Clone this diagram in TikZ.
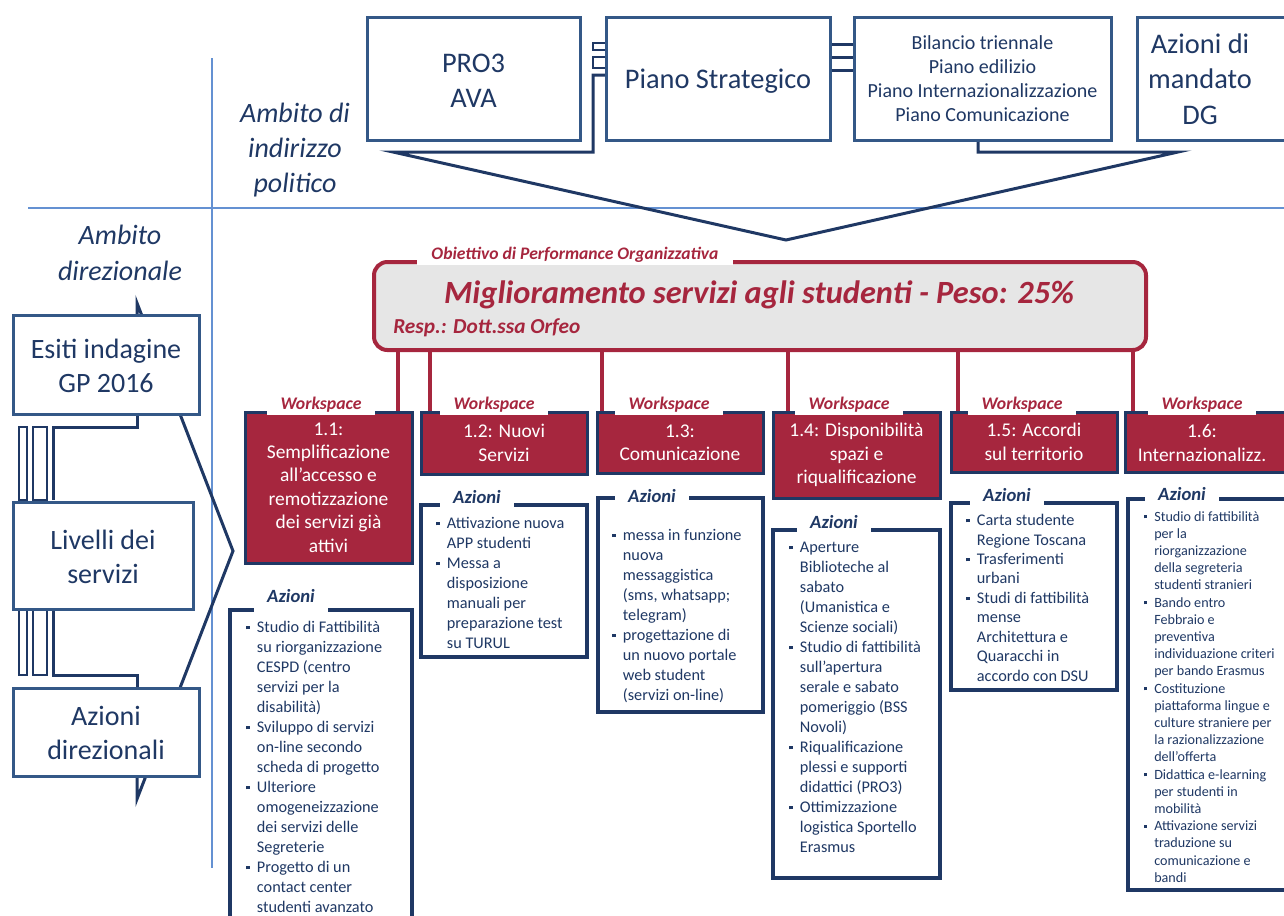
\documentclass[tikz,border=0pt]{standalone}
\usepackage{fontspec}
\setmainfont{Carlito}
\usetikzlibrary{fit,backgrounds}
\definecolor{crim}{RGB}{166,38,62}
\definecolor{navy}{RGB}{31,56,100}
\definecolor{boxblue}{RGB}{52,88,135}
\definecolor{divblue}{RGB}{100,145,210}
\definecolor{objgray}{RGB}{230,230,230}
\newcommand{\itm}{\makebox[8pt][l]{\raisebox{0.2em}{\rule{2.6pt}{2.6pt}}}}
\newcommand{\cnt}{\hspace*{8pt}}
\newcommand{\itms}{\makebox[7.5pt][l]{\raisebox{0.2em}{\rule{2.3pt}{2.3pt}}}}
\newcommand{\cnts}{\hspace*{7.5pt}}
\begin{document}
\begin{tikzpicture}[x=0.75pt,y=-0.75pt,
  divider/.style={draw=divblue,line width=1pt},
  outline/.style={draw=navy,line width=2.25pt},
  thinout/.style={draw=navy,line width=1.6pt},
  topbox/.style={draw=boxblue,line width=2.25pt,fill=white,inner sep=0pt},
  toptext/.style={inner sep=0pt,align=center,text=navy,font=\fontsize{21.3}{26.5}\selectfont},
  biltext/.style={inner sep=0pt,align=center,text=navy,font=\fontsize{15}{18}\selectfont},
  lefttext/.style={inner sep=0pt,align=center,text=navy,font=\fontsize{21}{25.5}\selectfont},
  ambito/.style={inner sep=0pt,align=center,text=navy,font=\itshape\fontsize{21}{26.5}\selectfont},
  objbox/.style={draw=crim,line width=3pt,fill=objgray,rounded corners=10pt,inner sep=0pt},
  objtitle/.style={inner sep=0pt,text=crim,font=\bfseries\itshape\fontsize{24.3}{29}\selectfont},
  objresp/.style={inner sep=0pt,text=crim,font=\bfseries\itshape\fontsize{16}{19}\selectfont},
  objlab/.style={fill=white,inner xsep=11pt,inner ysep=1.5pt,text=crim,font=\bfseries\itshape\fontsize{13.2}{16}\selectfont},
  conn/.style={draw=crim,line width=3pt},
  wsbox/.style={draw=navy,line width=2.25pt,fill=crim,inner sep=0pt},
  wstext/.style={inner sep=0pt,align=center,text=white,font=\fontsize{14.6}{17.6}\selectfont},
  wslab/.style={fill=white,inner xsep=10pt,inner ysep=1.5pt,text=crim,font=\bfseries\itshape\fontsize{13.3}{16}\selectfont},
  actbox/.style={draw=navy,line width=3pt,fill=white,inner sep=0pt},
  actlab/.style={fill=white,inner xsep=10pt,inner ysep=3.5pt,text=navy,font=\bfseries\itshape\fontsize{14}{17}\selectfont},
  items/.style={anchor=north west,inner sep=0pt,align=left,text=navy,font=\fontsize{12.2}{15}\selectfont},
  itemsmall/.style={anchor=north west,inner sep=0pt,align=left,text=navy,font=\fontsize{10.6}{12.9}\selectfont}
]
\useasboundingbox (0,0) rectangle (1284,915);

% dividers
\draw[divider] (212,58) -- (212,868);
\draw[divider] (28,208) -- (1284,208);

% chevron and funnel outlines
\draw[outline] (137,315) -- (137,303) -- (233,551) -- (137,799) -- (137,776);
\draw[outline] (606,75) -- (593,75) -- (593,152) -- (393,152) -- (786,240) -- (1178,152) -- (978,152) -- (978,140);
\draw[thinout] (593,43) rectangle (606,50);
\draw[thinout] (593,57) rectangle (606,68);
\foreach \yy in {44,57,70} \draw[outline] (830,\yy) -- (854,\yy);

% left bars
\draw[outline] (53,500) -- (53,427) -- (137,427) -- (137,414);
\draw[thinout] (19,427) rectangle (27,500);
\draw[thinout] (33,427) rectangle (47,500);
\draw[outline] (53,609) -- (53,675) -- (137,675) -- (137,688);
\draw[thinout] (19,609) rectangle (27,675);
\draw[thinout] (33,609) rectangle (47,675);

% top boxes
\node[topbox, fit={(367,17)(580,140)}] (pro3) {};
\node[toptext] (pro3t) at ([yshift=-1.5]pro3.center) {PRO3\\AVA};
\node[topbox, fit={(606,17)(830,140)}] (piano) {};
\node[toptext] (pianot) at ([yshift=-2]piano.center) {Piano Strategico};
\node[topbox, fit={(854,17)(1111,140)}] (bil) {};
\node[biltext] (bilt) at (bil.center) {Bilancio triennale\\Piano edilizio\\Piano Internazionalizzazione\\Piano Comunicazione};
\node[topbox, fit={(1137,17)(1300,140)}] (azdg) {};
\node[toptext] (azdgt) at (1200,79) {Azioni di\\mandato\\DG};

% ambito labels
\node[ambito] (amb1) at (295,150) {Ambito di\\indirizzo\\politico};
\node[ambito] (amb2) at (120,253) {Ambito\\direzionale};

% left boxes
\node[topbox, fit={(13,315)(199,414)}] (esiti) {};
\node[lefttext] (esitit) at ([yshift=-1]esiti.center) {Esiti indagine\\GP 2016};
\node[topbox, fit={(13,502)(193,609)}] (livelli) {};
\node[lefttext] (livellit) at ([yshift=-1]livelli.center) {Livelli dei\\servizi};
\node[topbox, fit={(13,688)(199,776)}] (azdir) {};
\node[lefttext] (azdirt) at ([yshift=-1]azdir.center) {Azioni\\direzionali};

% objective
\node[objbox, fit={(374,262)(1146,350)}] (obj) {};
\node[objtitle] (objt) at (759,295) {Miglioramento servizi agli studenti - Peso: 25\%};
\node[objresp, anchor=west] (resp) at (393,328) {Resp.: Dott.ssa Orfeo};
\node[objlab] (objl) at (575,255) {Obiettivo di Performance Organizzativa};

% workspaces
\node[wsbox, fit={(245,412)(412,563)}] (ws1) {};
\node[wstext] (ws1t) at (ws1.center) {1.1:\\Semplificazione\\all’accesso e\\remotizzazione\\dei servizi già\\attivi};
\node[wsbox, fit={(421,412)(587,474)}] (ws2) {};
\node[wstext] (ws2t) at (ws2.center) {1.2: Nuovi\\Servizi};
\node[wsbox, fit={(597,412)(763,473)}] (ws3) {};
\node[wstext] (ws3t) at (ws3.center) {1.3:\\Comunicazione};
\node[wsbox, fit={(773,412)(940,498)}] (ws4) {};
\node[wstext] (ws4t) at (ws4.center) {1.4: Disponibilità\\spazi e\\riqualificazione};
\node[wsbox, fit={(951,412)(1117,472)}] (ws5) {};
\node[wstext] (ws5t) at (ws5.center) {1.5: Accordi\\sul territorio};
\node[wsbox, fit={(1125,412)(1300,472)}] (ws6) {};
\node[wstext] (ws6t) at (1202,443) {1.6:\\Internazionalizz.};

\node[wslab] (wl1) at (321,405) {Workspace};
\node[wslab] (wl2) at (494,405) {Workspace};
\node[wslab] (wl3) at (669,405) {Workspace};
\node[wslab] (wl4) at (849,405) {Workspace};
\node[wslab] (wl5) at (1022,405) {Workspace};
\node[wslab] (wl6) at (1202,405) {Workspace};

% connectors objective -> workspaces
\foreach \n/\xx in {1/398,2/430,3/602,4/788,5/958,6/1133} \coordinate (k\n) at (\xx,0);
\begin{scope}[on background layer]
\foreach \n in {1,...,6} \draw[conn] (k\n |- obj.south) -- (k\n |- ws\n.north);
\end{scope}

% action boxes
\node[actbox, fit={(230,610)(412,940)}] (a1) {};
\node[actbox, fit={(421,505)(587,657)}] (a2) {};
\node[actbox, fit={(598,498)(763,712)}] (a3) {};
\node[actbox, fit={(773,530)(940,878)}] (a4) {};
\node[actbox, fit={(951,503)(1117,690)}] (a5) {};
\node[actbox, fit={(1128,499)(1300,890)}] (a6) {};

\node[actlab, inner ysep=8pt] (al1) at (291,596) {Azioni};
\node[actlab] (al2) at (477,497) {Azioni};
\node[actlab] (al3) at (652,496) {Azioni};
\node[actlab] (al4) at (834,522) {Azioni};
\node[actlab] (al5) at (1007,495) {Azioni};
\node[actlab] (al6) at (1182,494) {Azioni};

\node[items] (i1) at (246,621) {\itm Studio di Fattibilità\\\cnt su riorganizzazione\\\cnt CESPD (centro\\\cnt servizi per la\\\cnt disabilità)\\\itm Sviluppo di servizi\\\cnt on-line secondo\\\cnt scheda di progetto\\\itm Ulteriore\\\cnt omogeneizzazione\\\cnt dei servizi delle\\\cnt Segreterie\\\itm Progetto di un\\\cnt contact center\\\cnt studenti avanzato};
\node[items] (i2) at (436,517) {\itm Attivazione nuova\\\cnt APP studenti\\\itm Messa a\\\cnt disposizione\\\cnt manuali per\\\cnt preparazione test\\\cnt su TURUL};
\node[items] (i3) at (612,529) {\itm messa in funzione\\\cnt nuova\\\cnt messaggistica\\\cnt (sms, whatsapp;\\\cnt telegram)\\\itm progettazione di\\\cnt un nuovo portale\\\cnt web student\\\cnt (servizi on-line)};
\node[items] (i4) at (789,542) {\itm Aperture\\\cnt Biblioteche al\\\cnt sabato\\\cnt (Umanistica e\\\cnt Scienze sociali)\\\itm Studio di fattibilità\\\cnt sull’apertura\\\cnt serale e sabato\\\cnt pomeriggio (BSS\\\cnt Novoli)\\\itm Riqualificazione\\\cnt plessi e supporti\\\cnt didattici (PRO3)\\\itm Ottimizzazione\\\cnt logistica Sportello\\\cnt Erasmus};
\node[items, font=\fontsize{12.2}{14.6}\selectfont] (i5) at (966,514) {\itm Carta studente\\\cnt Regione Toscana\\\itm Trasferimenti\\\cnt urbani\\\itm Studi di fattibilità\\\cnt mense\\\cnt Architettura e\\\cnt Quaracchi in\\\cnt accordo con DSU};
\node[itemsmall] (i6) at (1144,511) {\itms Studio di fattibilità\\\cnts per la\\\cnts riorganizzazione\\\cnts della segreteria\\\cnts studenti stranieri\\\itms Bando entro\\\cnts Febbraio e\\\cnts preventiva\\\cnts individuazione criteri\\\cnts per bando Erasmus\\\itms Costituzione\\\cnts piattaforma lingue e\\\cnts culture straniere per\\\cnts la razionalizzazione\\\cnts dell’offerta\\\itms Didattica e-learning\\\cnts per studenti in\\\cnts mobilità\\\itms Attivazione servizi\\\cnts traduzione su\\\cnts comunicazione e\\\cnts bandi};
\end{tikzpicture}
\end{document}
